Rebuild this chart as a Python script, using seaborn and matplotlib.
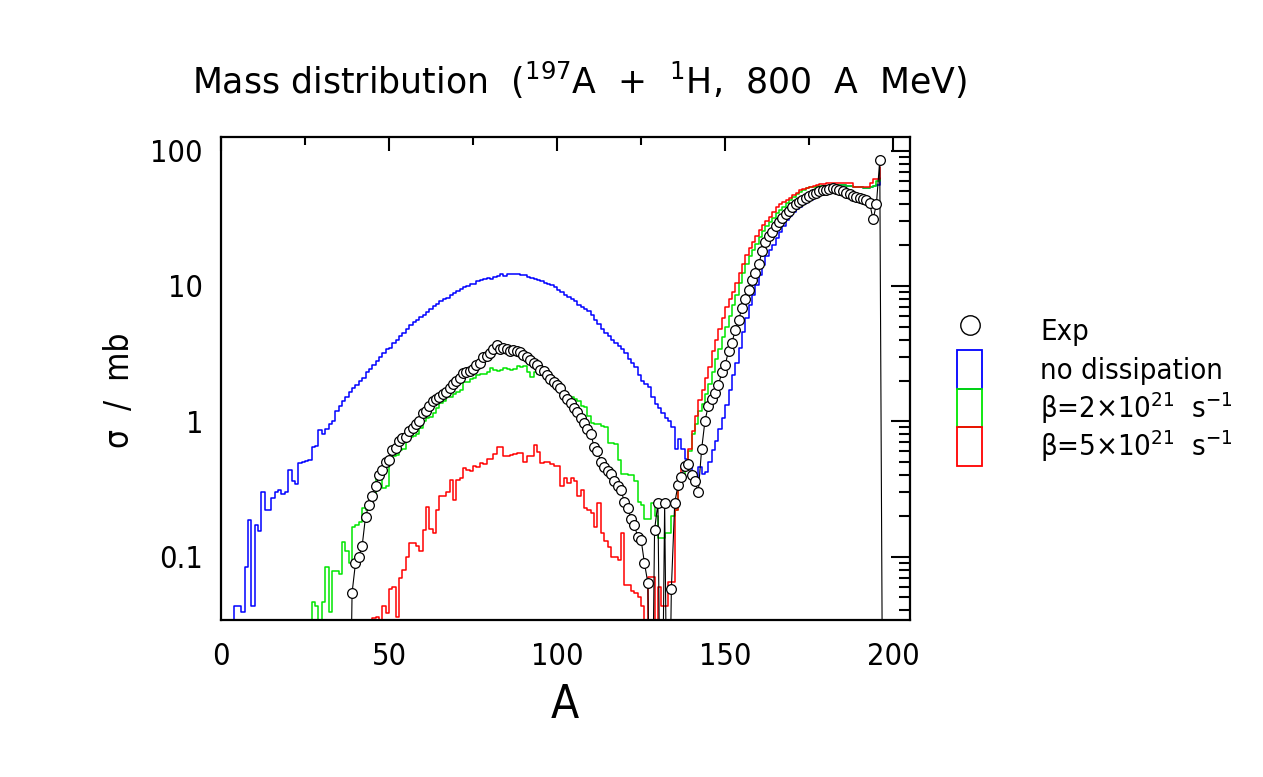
import numpy as np
import matplotlib
matplotlib.use("Agg")
import matplotlib.pyplot as plt
import matplotlib.ticker as mticker
import matplotlib.patches as mpatches
from matplotlib.lines import Line2D
import seaborn as sns

# ---------------- data ----------------
mass_blue = list(range(3, 197))
sigma_no_dissipation = [
    0, 0.043, 0.043, 0.039, 0.084, 0.186, 0.043, 0.17, 0.155, 0.30,
    0.22, 0.22, 0.27, 0.30, 0.31, 0.29, 0.30, 0.44, 0.36, 0.345,
    0.49, 0.50, 0.51, 0.52, 0.65, 0.66, 0.86, 0.81, 0.88, 0.95,
    1.0, 1.2, 1.3, 1.4, 1.5, 1.65, 1.75, 1.85, 2.0, 2.1,
    2.3, 2.45, 2.6, 2.8, 3.0, 3.2, 3.4, 3.5, 3.8, 4.0,
    4.3, 4.5, 4.8, 5.1, 5.4, 5.6, 5.9, 6.1, 6.4, 6.8,
    7.1, 7.3, 7.7, 8.0, 8.2, 8.6, 8.8, 9.2, 9.5, 9.8,
    10.0, 10.3, 10.4, 10.8, 11.0, 11.2, 11.4, 11.3, 11.7, 11.8,
    12.2, 11.9, 12.3, 12.3, 12.3, 12.2, 12.0, 12.0, 11.7, 11.5,
    11.3, 11.1, 10.8, 10.5, 10.3, 10.1, 9.9, 9.4, 9.0, 8.6,
    8.3, 8.0, 7.8, 7.2, 7.0, 6.7, 6.5, 6.1, 5.6, 5.2,
    4.8, 4.5, 4.3, 4.0, 3.8, 3.6, 3.4, 3.2, 2.9, 2.7,
    2.5, 2.2, 2.0, 1.9, 1.8, 1.5, 1.35, 1.25, 1.15, 1.05,
    1.0, 0.9, 0.62, 0.74, 0.62, 0.53, 0.47, 0.41, 0.39, 0.46,
    0.41, 0.42, 0.50, 0.61, 0.72, 0.87, 1.05, 1.32, 1.7, 2.2,
    2.7, 3.5, 4.6, 5.8, 7.2, 8.6, 10.2, 12.0, 14.3, 16.5,
    18.5, 20.0, 22.5, 25.0, 27.5, 30.5, 33.0, 35.0, 37.0, 38.5,
    40.0, 41.5, 43.0, 45.0, 47.0, 49.0, 51.0, 52.5, 53.5, 54.5,
    55.5, 56.0, 55.5, 55.0, 54.5, 54.0, 53.5, 53.5, 53.0, 53.0,
    53.5, 54.5, 56.0, 63.0,
]

mass_green = list(range(26, 197))
sigma_beta2 = [
    0, 0.046, 0.043, 0, 0.046, 0.084, 0.039, 0.078, 0.078, 0.074,
    0.129, 0.11, 0.089, 0.166, 0.17, 0.18, 0.227, 0.22, 0.23, 0.294,
    0.39, 0.40, 0.32, 0.33, 0.49, 0.55, 0.56, 0.61, 0.62, 0.73,
    0.76, 0.78, 0.80, 0.89, 1.01, 1.05, 1.08, 1.16, 1.25, 1.36,
    1.42, 1.5, 1.52, 1.6, 1.65, 1.7, 1.95, 1.95, 2.05, 2.1,
    2.2, 2.25, 2.25, 2.3, 2.46, 2.4, 2.35, 2.4, 2.46, 2.45,
    2.4, 2.45, 2.54, 2.5, 2.54, 2.3, 2.14, 2.3, 2.25, 2.2,
    2.14, 1.96, 1.95, 1.9, 1.8, 1.75, 1.6, 1.52, 1.5, 1.47,
    1.4, 1.3, 1.28, 1.1, 0.97, 0.96, 0.95, 0.93, 0.91, 0.69,
    0.69, 0.68, 0.52, 0.41, 0.41, 0.40, 0.40, 0.36, 0.255, 0.24,
    0.19, 0.19, 0.25, 0.20, 0.137, 0.137, 0.15, 0.15, 0.20, 0.22,
    0.33, 0.40, 0.47, 0.6, 0.8, 0.95, 1.2, 1.35, 1.6, 1.9,
    2.3, 2.9, 3.4, 4.2, 5.0, 6.0, 7.2, 8.6, 10.5, 12.5,
    14.5, 16.5, 18.5, 20.5, 23.0, 25.5, 27.5, 29.5, 32.0, 34.5,
    36.5, 38.5, 41.0, 43.5, 45.7, 47.5, 49.5, 51.0, 52.7, 53.5,
    54.0, 54.5, 54.8, 54.8, 55.0, 55.2, 55.5, 55.5, 55.5, 55.5,
    55.0, 54.5, 54.0, 53.8, 53.5, 53.3, 53.3, 54.0, 55.0, 60.0,
    62.0,
]

mass_red = list(range(44, 197))
sigma_beta5 = [
    0, 0.035, 0.036, 0, 0.043, 0.038, 0.058, 0.06, 0.036, 0.069,
    0.079, 0.10, 0.126, 0.126, 0.12, 0.11, 0.157, 0.234, 0.16, 0.15,
    0.22, 0.28, 0.28, 0.30, 0.37, 0.26, 0.37, 0.38, 0.45, 0.44,
    0.43, 0.47, 0.46, 0.49, 0.48, 0.53, 0.53, 0.57, 0.65, 0.65,
    0.55, 0.55, 0.56, 0.57, 0.58, 0.58, 0.50, 0.55, 0.55, 0.67,
    0.59, 0.49, 0.50, 0.50, 0.48, 0.47, 0.47, 0.33, 0.38, 0.35,
    0.38, 0.36, 0.28, 0.31, 0.23, 0.22, 0.21, 0.166, 0.25, 0.15,
    0.13, 0.118, 0.10, 0.10, 0.094, 0.15, 0.062, 0.062, 0.056, 0.054,
    0.05, 0.043, 0, 0.071, 0.071, 0, 0.06, 0.043, 0.043, 0.065,
    0.065, 0.22, 0.40, 0.45, 0.50, 0.62, 0.85, 1.1, 1.43, 1.7,
    2.1, 2.5, 3.3, 4.0, 4.8, 5.8, 7.0, 8.0, 9.0, 10.5,
    12.5, 14.5, 16.9, 19.0, 21.0, 23.5, 26.0, 28.0, 30.0, 32.5,
    35.0, 38.0, 40.0, 41.5, 43.0, 45.0, 47.0, 49.0, 51.0, 52.0,
    53.0, 54.0, 55.0, 56.0, 56.5, 57.0, 57.5, 58.0, 58.0, 58.0,
    58.0, 57.5, 57.5, 57.5, 54.0, 54.0, 54.0, 54.0, 54.0, 58.0,
    62.0, 62.0, 76.0,
]

mass_exp = list(range(38, 198))
sigma_exp = [
    0, 0.054, 0.089, 0.10, 0.12, 0.197, 0.24, 0.28, 0.33, 0.40,
    0.44, 0.50, 0.52, 0.61, 0.63, 0.72, 0.75, 0.77, 0.85, 0.89,
    0.96, 1.01, 1.15, 1.2, 1.3, 1.40, 1.45, 1.52, 1.6, 1.65,
    1.75, 1.9, 2.0, 2.1, 2.26, 2.3, 2.35, 2.45, 2.6, 2.7,
    3.0, 3.05, 3.2, 3.4, 3.66, 3.4, 3.45, 3.4, 3.3, 3.35,
    3.3, 3.27, 3.1, 3.0, 2.84, 2.7, 2.6, 2.4, 2.35, 2.2,
    2.05, 1.95, 1.85, 1.75, 1.55, 1.45, 1.36, 1.25, 1.18, 1.05,
    0.97, 0.88, 0.81, 0.65, 0.60, 0.50, 0.46, 0.43, 0.41, 0.36,
    0.33, 0.31, 0.255, 0.23, 0.19, 0.17, 0.14, 0.133, 0.089, 0.064,
    0, 0.158, 0.248, 0, 0.248, 0, 0.058, 0.25, 0.34, 0.39,
    0.47, 0.48, 0.40, 0.36, 0.30, 0.62, 1.01, 1.30, 1.45, 1.61,
    1.85, 2.3, 2.6, 3.3, 3.8, 4.7, 5.6, 6.9, 8.0, 9.3,
    11.0, 12.5, 14.5, 18.0, 21.0, 23.5, 25.0, 27.5, 29.5, 31.5,
    34.0, 36.0, 38.0, 40.5, 42.0, 43.5, 45.0, 46.5, 48.0, 49.0,
    50.0, 51.0, 51.5, 52.0, 52.5, 52.0, 51.0, 50.0, 48.5, 47.5,
    46.5, 45.5, 45.0, 44.0, 43.0, 41.0, 31.0, 40.0, 85.0, 0,
]

legend_labels = ["Exp", "no dissipation",
                 r"$\beta$=2$\times$10$^{21}$  s$^{-1}$",
                 r"$\beta$=5$\times$10$^{21}$  s$^{-1}$"]
xtick_values = [0, 50, 100, 150, 200]
ytick_values = [0.1, 1, 10, 100]
ytick_labels = ["0.1", "1", "10", "100"]

# ---------------- style ----------------
sns.set_theme(style="white")
plt.rcParams["font.family"] = ["DejaVu Sans"]
plt.rcParams["font.stretch"] = "condensed"
plt.rcParams["mathtext.default"] = "regular"
plt.rcParams["text.color"] = "black"
plt.rcParams["axes.labelcolor"] = "black"
plt.rcParams["xtick.color"] = "black"
plt.rcParams["ytick.color"] = "black"

W, H = 1263, 777
fig = plt.figure(figsize=(W / 100, H / 100), dpi=100)
fig.patch.set_facecolor("white")
ax = fig.add_axes([221 / W, 1 - 620 / H, (910 - 221) / W, (620 - 137) / H])
ax.set_facecolor("white")

FLOOR = 1e-3  # zero bins drawn down through the lower axis edge


def floored(v):
    v = np.asarray(v, dtype=float)
    return np.where(v > 0, v, FLOOR)


BLUE, GREEN, RED = "#0000ff", "#00e600", "#ff0000"

sns.lineplot(x=mass_blue, y=floored(sigma_no_dissipation), drawstyle="steps-post",
             color=BLUE, lw=1.1, estimator=None, ax=ax)
sns.lineplot(x=mass_green, y=floored(sigma_beta2), drawstyle="steps-post",
             color=GREEN, lw=1.1, estimator=None, ax=ax)
sns.lineplot(x=mass_red, y=floored(sigma_beta5), drawstyle="steps-post",
             color=RED, lw=1.1, estimator=None, ax=ax)
sns.lineplot(x=mass_exp, y=floored(sigma_exp), color="black", lw=0.8,
             marker="o", markersize=7, markerfacecolor="white",
             markeredgecolor="black", markeredgewidth=0.9,
             estimator=None, ax=ax)

ax.set_yscale("log")
ax.set_xlim(0, 205)
ax.set_ylim(0.034, 126)

ax.xaxis.set_major_locator(mticker.FixedLocator(xtick_values))
ax.xaxis.set_minor_locator(mticker.MultipleLocator(25))
ax.set_xticklabels([str(v) for v in xtick_values])
ax.yaxis.set_major_locator(mticker.FixedLocator(ytick_values))
ax.yaxis.set_minor_locator(mticker.LogLocator(base=10, subs=np.arange(2, 10)))
ax.yaxis.set_minor_formatter(mticker.NullFormatter())
ax.set_yticklabels(ytick_labels)

for sp in ax.spines.values():
    sp.set_visible(True)
    sp.set_linewidth(1.6)
    sp.set_color("black")

ax.tick_params(axis="both", which="both", direction="in", top=True, right=True,
               color="black", width=1.5, labelsize=22, labelcolor="black")
ax.tick_params(axis="x", which="major", length=10, pad=16)
ax.tick_params(axis="x", which="minor", length=6)
ax.tick_params(axis="y", which="major", length=14, pad=13)
ax.tick_params(axis="y", which="minor", length=8)

ax.set_xlabel("A", fontsize=33, va="center", color="black")
ax.xaxis.set_label_coords(0.499, -0.176)
ax.set_ylabel("σ  /  mb", fontsize=24, va="center", color="black")
ax.yaxis.set_label_coords(-0.147, 0.476)

fig.text(580 / W, 1 - 80 / H,
         r"Mass distribution  ($^{197}$A  +  $^{1}$H,  800  A  MeV)",
         ha="center", va="center", fontsize=25, color="black",
         fontstretch="normal")

handles = [
    Line2D([], [], marker="o", ls="none", markersize=14,
           markerfacecolor="white", markeredgecolor="black", markeredgewidth=1),
    mpatches.Patch(facecolor="none", edgecolor=BLUE, lw=1.3),
    mpatches.Patch(facecolor="none", edgecolor=GREEN, lw=1.3),
    mpatches.Patch(facecolor="none", edgecolor=RED, lw=1.3),
]
fig.legend(handles, legend_labels, loc="upper left",
           bbox_to_anchor=(957 / W, 1 - 311 / H), frameon=False,
           fontsize=21, handlelength=0.86, handleheight=1.67, labelspacing=0.0,
           handletextpad=2.0, borderpad=0, borderaxespad=0)

fig.savefig("out.png", dpi=100, facecolor="white")
